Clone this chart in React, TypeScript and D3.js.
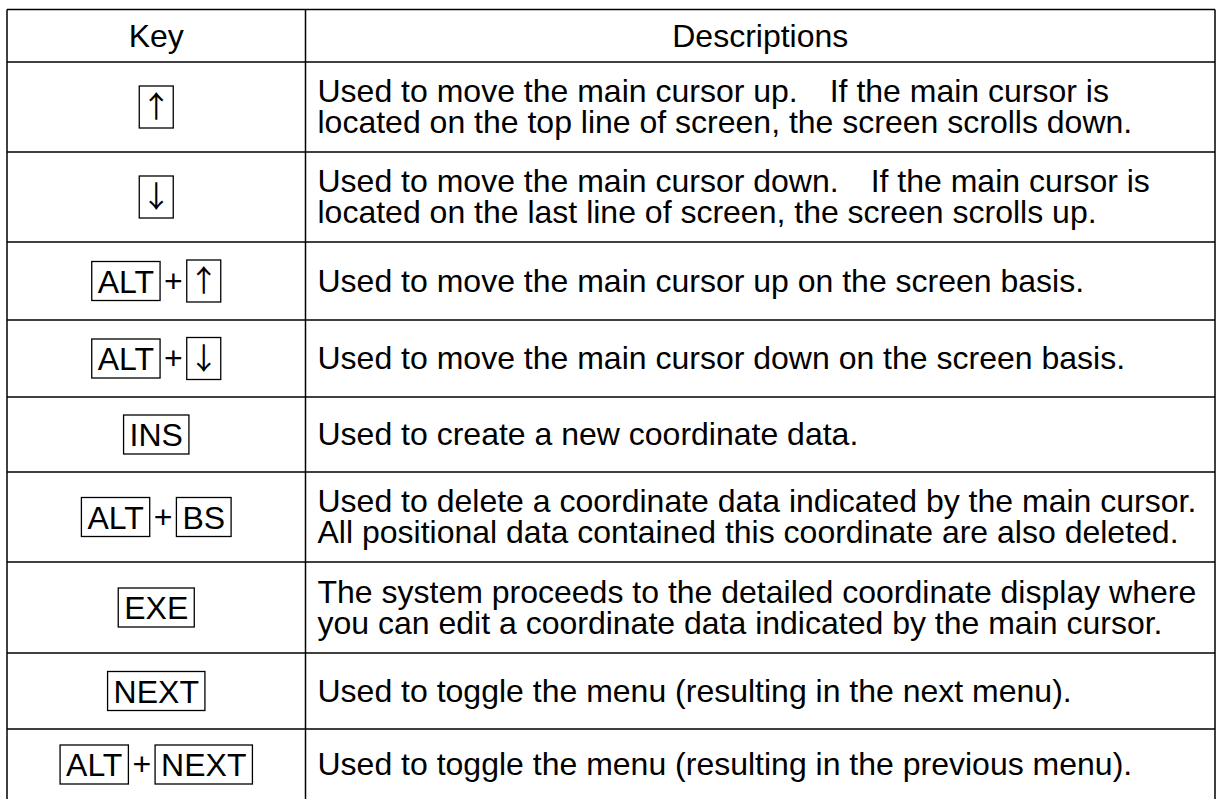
import React, { useEffect, useRef } from 'react';
import * as d3 from 'd3';

// table content
const headers = ['Key', 'Descriptions'];

const keys = [
  ['↑'],
  ['↓'],
  ['ALT', '↑'],
  ['ALT', '↓'],
  ['INS'],
  ['ALT', 'BS'],
  ['EXE'],
  ['NEXT'],
  ['ALT', 'NEXT'],
];

const descriptions = [
  ['Used to move the main cursor up.\u3000If the main cursor is', 'located on the top line of screen, the screen scrolls down.'],
  ['Used to move the main cursor down.\u3000If the main cursor is', 'located on the last line of screen, the screen scrolls up.'],
  ['Used to move the main cursor up on the screen basis.'],
  ['Used to move the main cursor down on the screen basis.'],
  ['Used to create a new coordinate data.'],
  ['Used to delete a coordinate data indicated by the main cursor.', 'All positional data contained this coordinate are also deleted.'],
  ['The system proceeds to the detailed coordinate display where', 'you can edit a coordinate data indicated by the main cursor.'],
  ['Used to toggle the menu (resulting in the next menu).'],
  ['Used to toggle the menu (resulting in the previous menu).'],
];

// layout
const W = 1221, H = 799;
const colX = [7, 305.5, 1215];
const rowY = [9.5, 62, 152, 242, 320, 397, 472, 562, 653, 729, 800];
const FONT = '"Liberation Sans", Arial, sans-serif';
const ARROW_FONT = '"Noto Sans CJK JP", "DejaVu Sans", sans-serif';
const FS = 32;
const LINE_H = 31;
const CAP = 11.5;

export default function App() {
  const ref = useRef<SVGSVGElement>(null);

  useEffect(() => {
    const svg = d3.select(ref.current);
    svg.selectAll('*').remove();
    const g = svg.append('g').style('font-family', FONT).style('font-size', FS + 'px').attr('fill', '#000');

    // grid
    const grid = g.append('g').attr('stroke', '#000').attr('stroke-width', 1.5);
    grid.selectAll('.h-line').data(rowY).join('line').attr('class', 'h-line')
      .attr('x1', colX[0]).attr('x2', colX[2])
      .attr('y1', d => d).attr('y2', d => d);
    grid.selectAll('.v-line').data(colX).join('line').attr('class', 'v-line')
      .attr('x1', d => d).attr('x2', d => d)
      .attr('y1', rowY[0]).attr('y2', rowY[rowY.length - 1]);

    // header
    g.selectAll('.header').data(headers).join('text').attr('class', 'header')
      .attr('x', (d, i) => (colX[i] + colX[i + 1]) / 2)
      .attr('y', (rowY[0] + rowY[1]) / 2 + CAP)
      .attr('text-anchor', 'middle')
      .text(d => d);

    // descriptions
    descriptions.forEach((lines, i) => {
      const cy = (rowY[i + 1] + rowY[i + 2]) / 2;
      const y0 = cy - (lines.length - 1) * LINE_H / 2 + CAP - 1;
      g.append('g').selectAll('text').data(lines).join('text')
        .attr('x', colX[1] + 12)
        .attr('y', (d, j) => y0 + j * LINE_H)
        .text(d => d);
    });

    // key boxes
    const PLUS_GAP = 4;
    keys.forEach((tokens, i) => {
      const cy = (rowY[i + 1] + rowY[i + 2]) / 2;
      const cx = (colX[0] + colX[1]) / 2;
      const kg = g.append('g');
      const items: any[] = [];
      tokens.forEach((t, j) => {
        if (j > 0) {
          const p = kg.append('text').text('+');
          items.push({ el: p, w: (p.node() as SVGTextElement).getComputedTextLength(), box: false });
        }
        const arrow = t === '↑' || t === '↓';
        const tx = kg.append('text').text(t).attr('text-anchor', 'middle');
        if (arrow) tx.style('font-family', ARROW_FONT).style('font-size', '30px');
        const tw = (tx.node() as SVGTextElement).getComputedTextLength();
        items.push({ el: tx, w: arrow ? 34 : tw + 12, box: true, arrow });
      });
      const total = d3.sum(items, d => d.box ? d.w : d.w + 2 * PLUS_GAP);
      let x = cx - total / 2;
      items.forEach(it => {
        if (it.box) {
          const bh = it.arrow ? 42 : 39;
          kg.insert('rect', 'text')
            .attr('x', x).attr('y', cy - bh / 2)
            .attr('width', it.w).attr('height', bh)
            .attr('fill', 'none').attr('stroke', '#000').attr('stroke-width', 1.3);
          it.el.attr('x', x + it.w / 2).attr('y', it.arrow ? cy + 10 : cy + CAP);
          x += it.w;
        } else {
          x += PLUS_GAP;
          it.el.attr('x', x).attr('y', cy + CAP - 1);
          x += it.w + PLUS_GAP;
        }
      });
    });
  }, []);

  return (
    <svg ref={ref} width={W} height={H}
      style={{ position: 'absolute', left: 0, top: 0, background: '#fff' }} />
  );
}
